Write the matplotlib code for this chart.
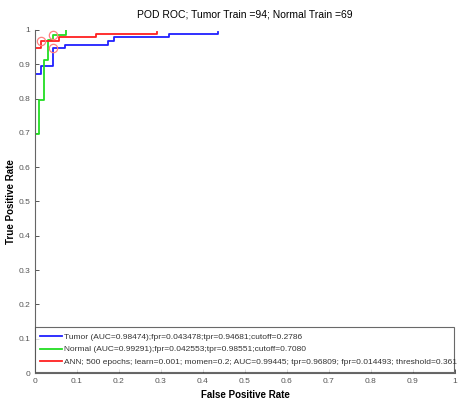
import numpy as np
import matplotlib
matplotlib.use("Agg")
import matplotlib.pyplot as plt

# ROC curves (step points)
tumor_fpr = [0, 0.0145, 0.0145, 0.0435, 0.0435, 0.0725, 0.0725, 0.174, 0.174, 0.188, 0.188, 0.319, 0.319, 0.435, 0.435]
tumor_tpr = [0.872, 0.872, 0.894, 0.894, 0.947, 0.947, 0.957, 0.957, 0.968, 0.968, 0.979, 0.979, 0.989, 0.989, 0.995]

normal_fpr = [0, 0.0106, 0.0106, 0.0213, 0.0213, 0.0319, 0.0319, 0.0426, 0.0426, 0.0745, 0.0745]
normal_tpr = [0.696, 0.696, 0.797, 0.797, 0.913, 0.913, 0.971, 0.971, 0.986, 0.986, 1.0]

ann_fpr = [0, 0.0145, 0.0145, 0.058, 0.058, 0.145, 0.145, 0.29, 0.29]
ann_tpr = [0.947, 0.947, 0.968, 0.968, 0.979, 0.979, 0.989, 0.989, 0.995]

# operating points (red circles)
op_fpr = [0.043478, 0.042553, 0.014493]
op_tpr = [0.94681, 0.98551, 0.96809]

# legend labels, cut where the legend box ends in the original
labels = [
    "Tumor (AUC=0.98474);fpr=0.043478;tpr=0.94681;cutoff=0.2786",
    "Normal (AUC=0.99291);fpr=0.042553;tpr=0.98551;cutoff=0.7080",
    "ANN; 500 epochs; learn=0.001; momen=0.2; AUC=0.99445; tpr=0.96809; fpr=0.014493; threshold=0.361",
]
ticks = [0, 0.1, 0.2, 0.3, 0.4, 0.5, 0.6, 0.7, 0.8, 0.9, 1]
tick_labels = ["0", "0.1", "0.2", "0.3", "0.4", "0.5", "0.6", "0.7", "0.8", "0.9", "1"]

plt.rcParams['font.family'] = ['Liberation Sans', 'DejaVu Sans']

fig = plt.figure(figsize=(4.6, 3.99), dpi=100)
ax = fig.add_axes([0.076, 0.065, 0.913, 0.86])

ax.plot(tumor_fpr, tumor_tpr, color='#2020ff', linewidth=1.3, label=labels[0])
ax.plot(normal_fpr, normal_tpr, color='#22dd22', linewidth=1.3, label=labels[1])
ax.plot(ann_fpr, ann_tpr, color='#ff2020', linewidth=1.3, label=labels[2])
ax.plot(op_fpr, op_tpr, 'o', markersize=6, markerfacecolor='none',
        markeredgecolor='#ff8080', markeredgewidth=0.9)

ax.set_xlim(0, 1)
ax.set_ylim(0, 1)
ax.set_xticks(ticks)
ax.set_xticklabels(tick_labels)
ax.set_yticks(ticks)
ax.set_yticklabels(tick_labels)
ax.tick_params(direction='in', length=3, labelsize=6, colors='#555555', width=0.7)
ax.spines['top'].set_visible(False)
ax.spines['right'].set_visible(False)
ax.spines['left'].set_color('#666666')
ax.spines['bottom'].set_color('#666666')

ax.set_title("POD ROC; Tumor Train =94; Normal Train =69", fontsize=7.5, pad=9)
ax.set_ylabel("True Positive Rate", fontsize=7, fontweight='bold')
ax.yaxis.set_label_coords(-0.046, 0.5)
ax.set_xlabel("False Positive Rate", fontsize=7, fontweight='bold', labelpad=4)

leg = ax.legend(loc='lower left', bbox_to_anchor=(0.0, 0.004, 0.997, 0.136), mode='expand',
                fontsize=6, frameon=True, fancybox=False, handlelength=2.6,
                handletextpad=0.2, borderaxespad=0, borderpad=0.65, labelspacing=0.6)
leg.get_frame().set_edgecolor('#444444')
leg.get_frame().set_linewidth(0.8)
for t in leg.get_texts():
    t.set_color('#333333')

fig.savefig("out.png", dpi=100)
